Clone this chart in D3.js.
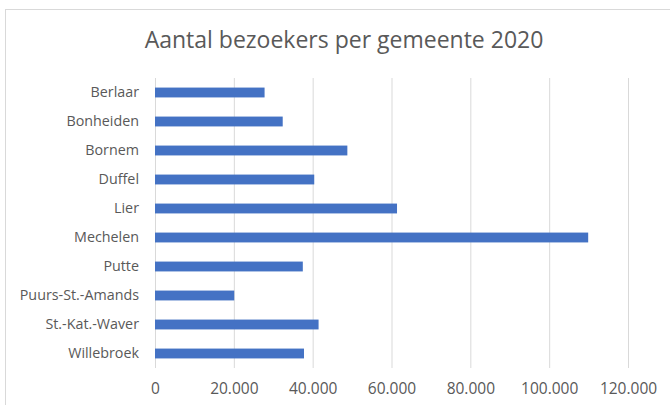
<!DOCTYPE html>
<html>
<head>
<meta charset="utf-8">
<script src="https://cdn.jsdelivr.net/npm/d3@7"></script>
<style>
  body { margin: 0; background: #fff; }
  svg text { font-family: "Open Sans", "Noto Sans", sans-serif; fill: #595959; }
</style>
</head>
<body>
<div id="chart"></div>
<script>
const gemeenten = ['Berlaar', 'Bonheiden', 'Bornem', 'Duffel', 'Lier', 'Mechelen',
    'Putte', 'Puurs-St.-Amands', 'St.-Kat.-Waver', 'Willebroek'];
const bezoekers = [27800, 32400, 48800, 40400, 61400, 109900, 37500, 20100, 41500, 37800];
const xTicks = [0, 20000, 40000, 60000, 80000, 100000, 120000];

const width = 670,
    height = 405,
    margin = {left: 155, top: 78, right: 42, bottom: 37};

const svg = d3.select('#chart').append('svg')
    .attr('width', width)
    .attr('height', height);

// chart frame
svg.append('rect')
    .attr('x', 5.5)
    .attr('y', 9.5)
    .attr('width', 680)
    .attr('height', 420)
    .attr('fill', '#fff')
    .attr('stroke', '#d9d9d9');

svg.append('text')
    .attr('x', 344)
    .attr('y', 48)
    .attr('text-anchor', 'middle')
    .style('font-size', '23px')
    .text('Aantal bezoekers per gemeente 2020');

const x = d3.scaleLinear()
    .domain([0, 120000])
    .range([margin.left, width - margin.right]);

const y = d3.scaleBand()
    .domain(gemeenten)
    .range([margin.top, height - margin.bottom])
    .paddingInner(0.66)
    .paddingOuter(0.33);

const fmt = d => d3.format(',')(d).replace(/,/g, '.');

// gridlines
svg.append('g')
    .selectAll('line')
    .data(xTicks)
    .join('line')
    .attr('x1', d => x(d) + 0.5)
    .attr('x2', d => x(d) + 0.5)
    .attr('y1', margin.top)
    .attr('y2', height - margin.bottom)
    .attr('stroke', '#d9d9d9')
    .attr('stroke-width', 1);

// x axis labels
const xAxis = d3.axisBottom(x)
    .tickValues(xTicks)
    .tickFormat(fmt)
    .tickSize(0)
    .tickPadding(15);

svg.append('g')
    .attr('transform', `translate(0, ${height - margin.bottom})`)
    .call(xAxis)
    .call(g => g.select('.domain').remove())
    .call(g => g.selectAll('text')
        .style('font-size', '15.5px')
        .attr('fill', '#595959'));

// y axis labels
const yAxis = d3.axisLeft(y)
    .tickSize(0)
    .tickPadding(16);

svg.append('g')
    .attr('transform', `translate(${margin.left}, 0)`)
    .call(yAxis)
    .call(g => g.select('.domain').remove())
    .call(g => g.selectAll('text')
        .style('font-size', '14.3px')
        .attr('fill', '#595959'));

// bars
svg.append('g')
    .selectAll('rect')
    .data(gemeenten)
    .join('rect')
    .attr('x', x(0))
    .attr('y', d => y(d))
    .attr('width', (d, i) => x(bezoekers[i]) - x(0))
    .attr('height', y.bandwidth())
    .attr('fill', '#4472c4');
</script>
</body>
</html>
